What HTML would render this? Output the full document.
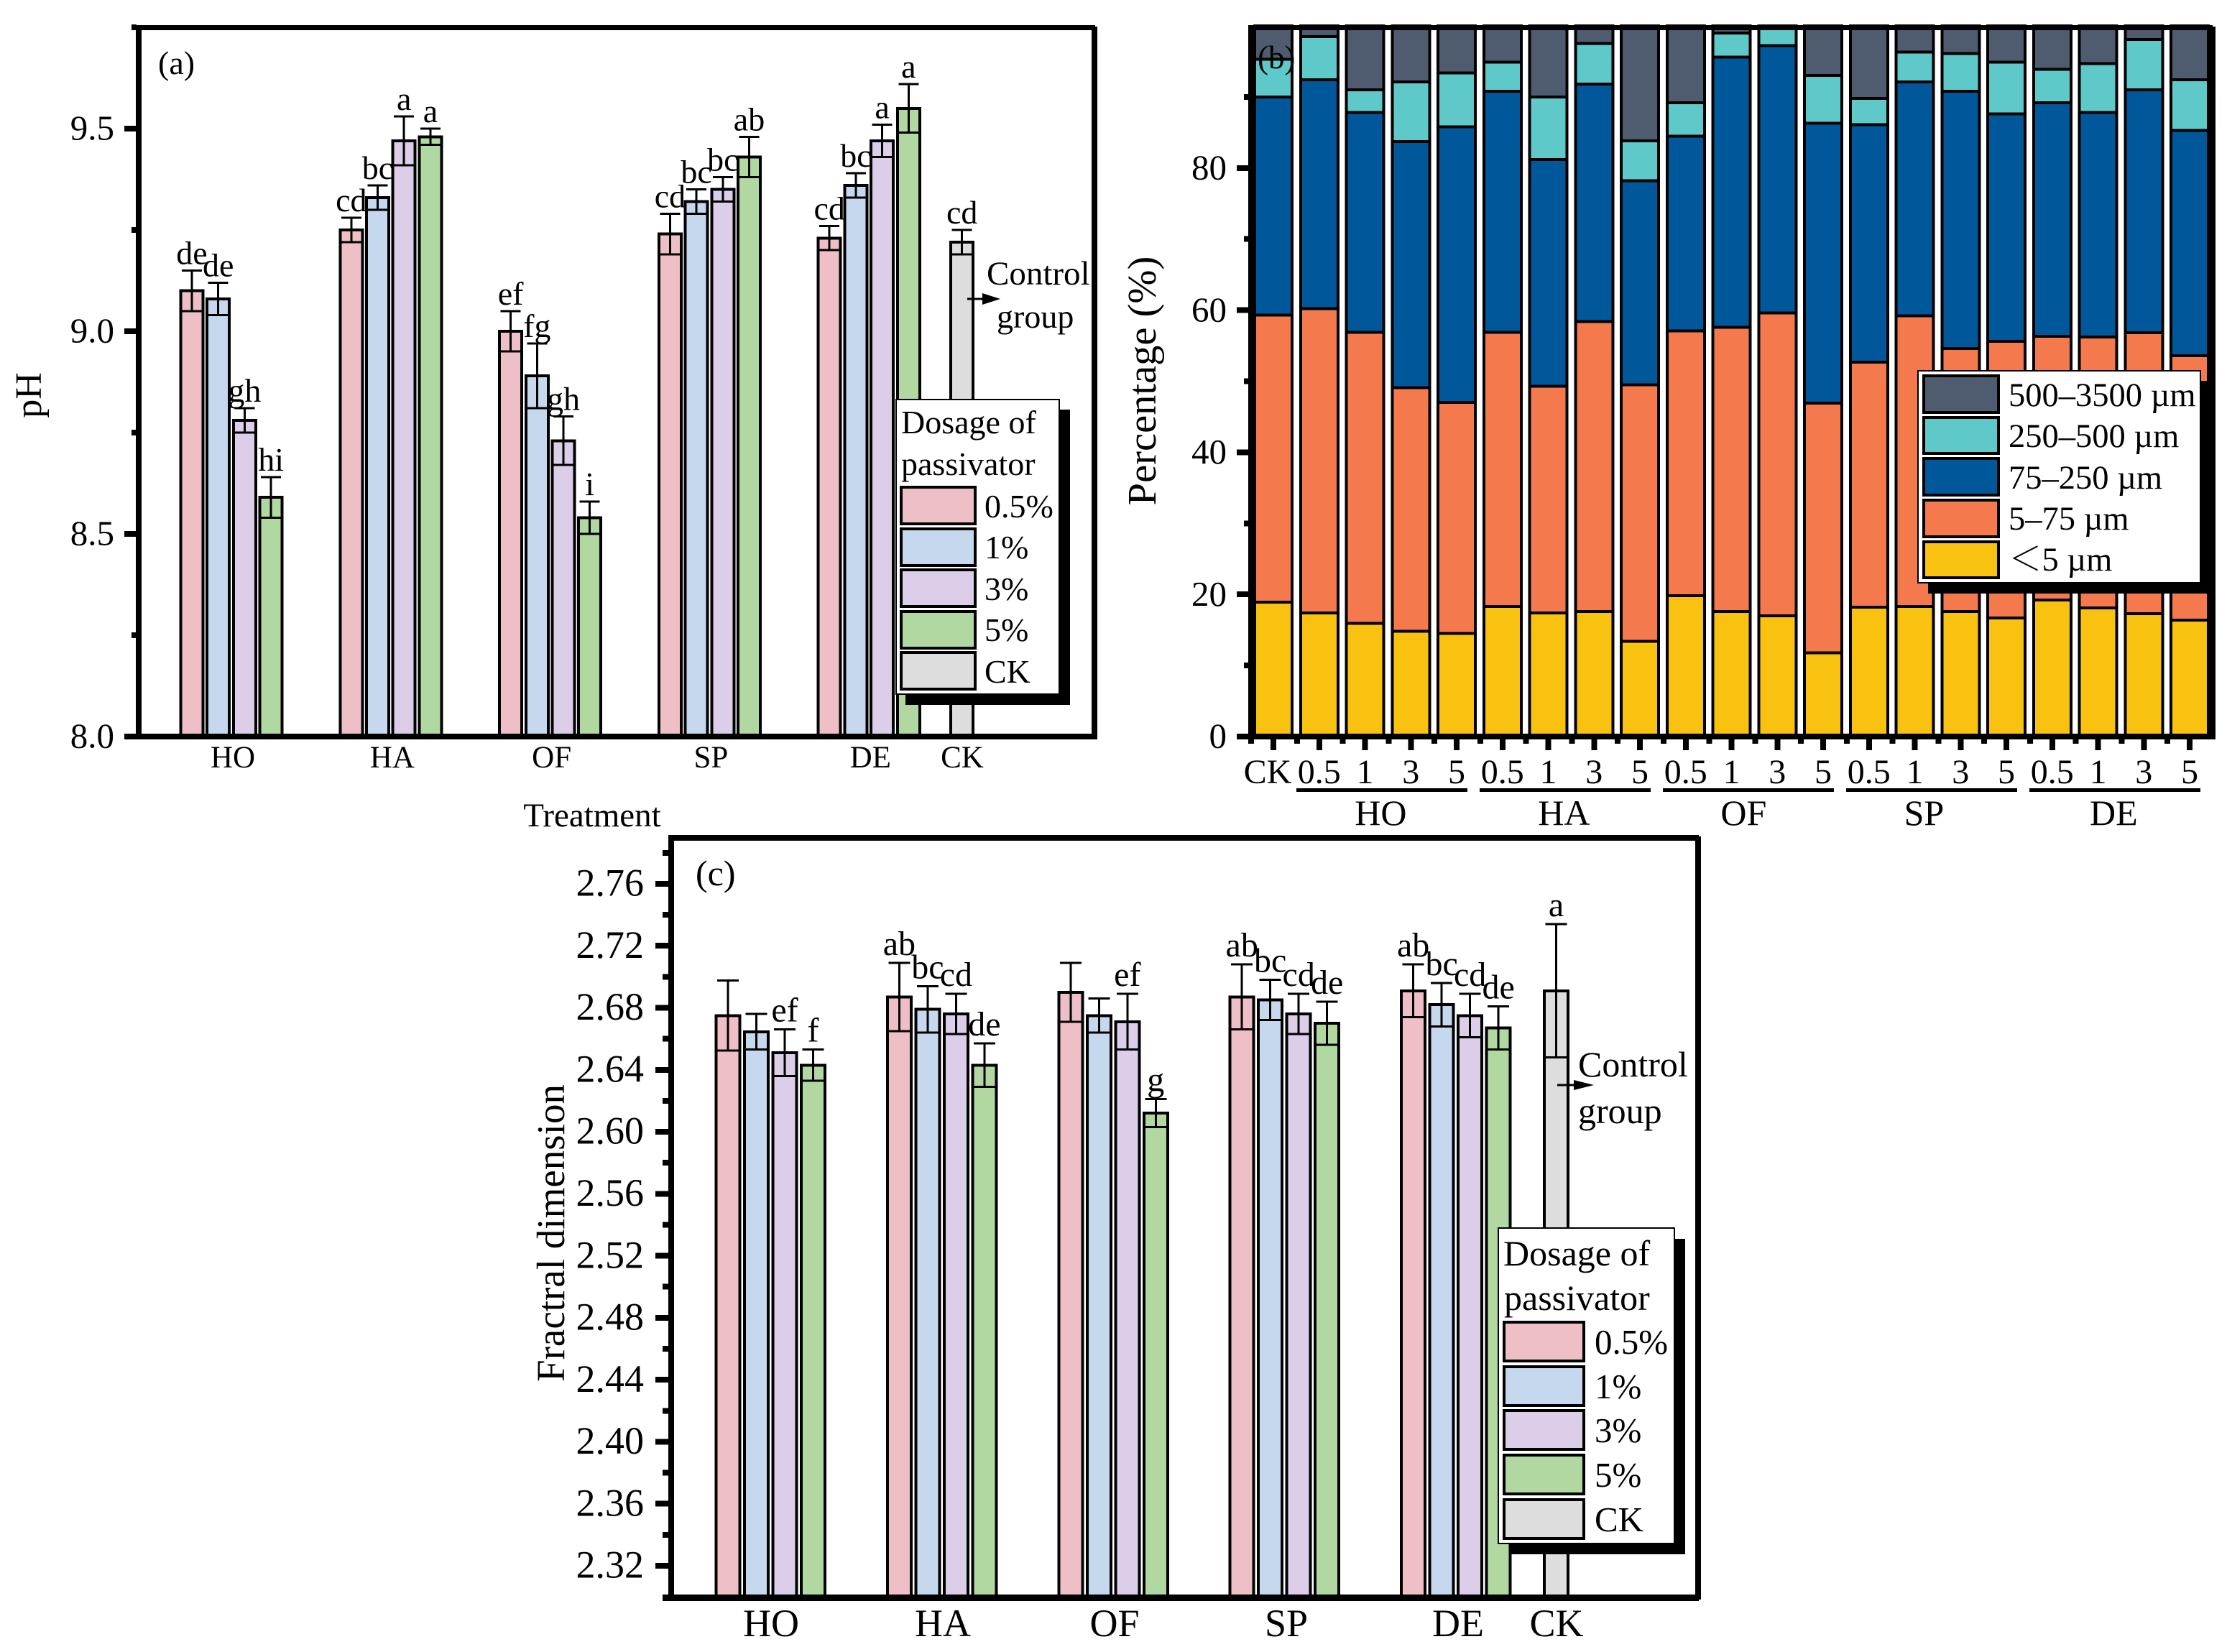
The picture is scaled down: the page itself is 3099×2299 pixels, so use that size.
<!DOCTYPE html>
<html lang="en">
<head>
<meta charset="utf-8">
<title>pH, particle size distribution and fractal dimension by passivator treatment</title>
<style>
html,body{margin:0;padding:0;background:#fff;}
svg{display:block;}
text{font-family:"Liberation Serif","Noto Serif CJK SC",serif;fill:#000;}
.crisp rect{shape-rendering:crispEdges;}
.crisp line{shape-rendering:crispEdges;}
</style>
</head>
<body>
<svg id="fig" xmlns="http://www.w3.org/2000/svg" width="3099" height="2299" viewBox="0 0 3099 2299">
<rect x="0" y="0" width="3099" height="2299" fill="#ffffff"/>

<!-- PANEL A -->
<g id="panel-a">
  <g id="a-bars" class="crisp"></g>
  <g id="a-frame" class="crisp" fill="#000">
    <rect x="189" y="35" width="8" height="994"/>
    <rect x="189" y="35" width="1335" height="7"/>
    <rect x="1519" y="37" width="8" height="992"/>
    <rect x="173" y="1021" width="1351" height="8"/>
  </g>
  <g id="a-ticks" class="crisp"></g>
  <text x="220" y="103" font-size="46">(a)</text>
  <text transform="translate(57,550) rotate(-90)" text-anchor="middle" font-size="52">pH</text>
  <text x="824" y="1150" text-anchor="middle" font-size="47">Treatment</text>
  <g>
    <text x="1373" y="396" font-size="47">Control</text>
    <text x="1387" y="456" font-size="46">group</text>
    <line x1="1346" y1="416" x2="1372" y2="416" stroke="#000" stroke-width="3"/>
    <polygon points="1367,408 1392,416 1367,424" fill="#000"/>
  </g>
  <g class="crisp">
    <rect x="1260" y="570" width="229" height="411" fill="#000"/>
    <rect x="1247" y="556" width="227" height="410" fill="#fff" stroke="#000" stroke-width="2"/>
    <text x="1254" y="603" font-size="46">Dosage of</text>
    <text x="1254" y="661" font-size="46">passivator</text>
    <g stroke="#000" stroke-width="4">
      <rect x="1254" y="678" width="103" height="51" fill="#EEBFC6"/>
      <rect x="1254" y="736" width="103" height="51" fill="#C6D8EE"/>
      <rect x="1254" y="793" width="103" height="51" fill="#DCCDE9"/>
      <rect x="1254" y="851" width="103" height="51" fill="#B2D8A2"/>
      <rect x="1254" y="908" width="103" height="51" fill="#DDDDDD"/>
    </g>
    <text x="1370" y="720" font-size="46">0.5%</text>
    <text x="1370" y="777" font-size="46">1%</text>
    <text x="1370" y="835" font-size="46">3%</text>
    <text x="1370" y="892" font-size="46">5%</text>
    <text x="1370" y="950" font-size="46">CK</text>
  </g>
</g>

<!-- PANEL B -->
<g id="panel-b">
  <g id="b-bars" class="crisp"></g>
  <g class="crisp" fill="#000">
    <rect x="1737" y="35" width="8" height="994"/>
    <rect x="1737" y="35" width="1342" height="7"/>
    <rect x="3075" y="37" width="8" height="992"/>
    <rect x="1721" y="1021" width="1358" height="8"/>
  </g>
  <g id="b-ticks" class="crisp"></g>
  <text x="1750" y="95" font-size="45">(b)</text>
  <text transform="translate(1608,530) rotate(-90)" text-anchor="middle" font-size="56.5">Percentage (%)</text>
  <g class="crisp">
    <rect x="2683" y="530" width="394" height="296" fill="#000"/>
    <rect x="2669" y="516" width="393" height="295" fill="#fff" stroke="#000" stroke-width="2"/>
    <g stroke="#000" stroke-width="4">
      <rect x="2677" y="523" width="104" height="51" fill="#4F5B6E"/>
      <rect x="2677" y="581" width="104" height="50" fill="#5FC8C9"/>
      <rect x="2677" y="638" width="104" height="51" fill="#005799"/>
      <rect x="2677" y="696" width="104" height="51" fill="#F4794C"/>
      <rect x="2677" y="754" width="104" height="50" fill="#F9C110"/>
    </g>
    <text x="2795" y="565" font-size="46.5">500–3500 µm</text>
    <text x="2795" y="622" font-size="46.5">250–500 µm</text>
    <text x="2795" y="680" font-size="46.5">75–250 µm</text>
    <text x="2795" y="737" font-size="46.5">5–75 µm</text>
    <text x="2795" y="794" font-size="46.5">＜5 µm</text>
  </g>
</g>

<!-- PANEL C -->
<g id="panel-c">
  <g id="c-bars" class="crisp"></g>
  <g class="crisp" fill="#000">
    <rect x="930" y="1162" width="8" height="1066"/>
    <rect x="930" y="1162" width="1434" height="8"/>
    <rect x="2359" y="1164" width="8" height="1062"/>
    <rect x="922" y="2219" width="1442" height="9"/>
  </g>
  <g id="c-ticks" class="crisp"></g>
  <text x="968" y="1232" font-size="50">(c)</text>
  <text transform="translate(785,1716) rotate(-90)" text-anchor="middle" font-size="55">Fractral dimension</text>
  <g>
    <text x="2196" y="1498" font-size="50">Control</text>
    <text x="2196" y="1563" font-size="50">group</text>
    <line x1="2167" y1="1510" x2="2192" y2="1510" stroke="#000" stroke-width="3"/>
    <polygon points="2190,1503 2218,1510 2190,1517" fill="#000"/>
  </g>
  <g class="crisp">
    <rect x="2100" y="1724" width="245" height="439" fill="#000"/>
    <rect x="2085" y="1709" width="245" height="439" fill="#fff" stroke="#000" stroke-width="2"/>
    <text x="2092" y="1761" font-size="50">Dosage of</text>
    <text x="2093" y="1823" font-size="50">passivator</text>
    <g stroke="#000" stroke-width="4">
      <rect x="2093" y="1840" width="111" height="54" fill="#EEBFC6"/>
      <rect x="2093" y="1902" width="111" height="54" fill="#C6D8EE"/>
      <rect x="2093" y="1963" width="111" height="54" fill="#DCCDE9"/>
      <rect x="2093" y="2025" width="111" height="54" fill="#B2D8A2"/>
      <rect x="2093" y="2087" width="111" height="54" fill="#DDDDDD"/>
    </g>
    <text x="2219" y="1884" font-size="49">0.5%</text>
    <text x="2219" y="1946" font-size="49">1%</text>
    <text x="2219" y="2007" font-size="49">3%</text>
    <text x="2219" y="2069" font-size="49">5%</text>
    <text x="2219" y="2131" font-size="49">CK</text>
  </g>
</g>
</svg>

<script>
// ---------- shared categories ----------
const groups = ['HO', 'HA', 'OF', 'SP', 'DE'];
const ckLabel = ['CK'];
const doseKeys = ['0-5', '1', '3', '5'];
const doseColors = ['#EEBFC6', '#C6D8EE', '#DCCDE9', '#B2D8A2'];
const ckColor = '#DDDDDD';

// ---------- panel (a): pH ----------
const phTickValues = [8.0, 8.5, 9.0, 9.5];
const phTickLabels = ['8.0', '8.5', '9.0', '9.5'];
const phMinorTicks = [8.25, 8.75, 9.25, 9.75];
const phDose05 = [9.10, 9.25, 9.00, 9.24, 9.23];
const phDose1 = [9.08, 9.33, 8.89, 9.32, 9.36];
const phDose3 = [8.78, 9.47, 8.73, 9.35, 9.47];
const phDose5 = [8.59, 9.48, 8.54, 9.43, 9.55];
const phErr05 = [0.05, 0.03, 0.05, 0.05, 0.03];
const phErr1 = [0.04, 0.03, 0.08, 0.03, 0.03];
const phErr3 = [0.03, 0.06, 0.06, 0.03, 0.04];
const phErr5 = [0.05, 0.02, 0.04, 0.05, 0.06];
const phLetters05 = ['de', 'cd', 'ef', 'cd', 'cd'];
const phLetters1 = ['de', 'bc', 'fg', 'bc', 'bc'];
const phLetters3 = ['gh', 'a', 'gh', 'bc', 'a'];
const phLetters5 = ['hi', 'a', 'i', 'ab', 'a'];
const phCk = [9.22];
const phCkErr = [0.03];
const phCkLetter = ['cd'];

// ---------- panel (b): particle size stacks (percent) ----------
const sizeTickValues = [0, 20, 40, 60, 80];
const sizeMinorTicks = [10, 30, 50, 70, 90];
const sizeCategories = ['CK', '0.5', '1', '3', '5', '0.5', '1', '3', '5', '0.5', '1', '3', '5', '0.5', '1', '3', '5', '0.5', '1', '3', '5'];
const sizeUnder5 = [18.9, 17.4, 15.9, 14.8, 14.5, 18.3, 17.4, 17.6, 13.4, 19.8, 17.6, 17.0, 11.8, 18.2, 18.3, 17.6, 16.7, 19.2, 18.1, 17.3, 16.4];
const size5to75 = [40.4, 42.8, 41.0, 34.3, 32.5, 38.6, 31.9, 40.8, 36.1, 37.3, 40.0, 42.6, 35.1, 34.5, 40.9, 37.0, 38.9, 37.1, 38.1, 39.5, 37.2];
const size75to250 = [30.7, 32.2, 30.9, 34.6, 38.8, 33.9, 31.9, 33.4, 28.7, 27.4, 38.0, 37.6, 39.4, 33.4, 32.9, 36.2, 32.0, 32.9, 31.6, 34.2, 31.7];
const size250to500 = [5.3, 6.1, 3.2, 8.4, 7.6, 4.1, 8.8, 5.7, 5.6, 4.7, 3.4, 2.8, 6.7, 3.7, 4.2, 5.3, 7.3, 4.7, 6.9, 7.1, 7.1];
const size500to3500 = [4.7, 1.5, 9.0, 7.9, 6.6, 5.1, 10.0, 2.5, 16.2, 10.8, 1.0, 0.0, 7.0, 10.2, 3.7, 3.9, 5.1, 6.1, 5.3, 1.9, 7.6];
const sizeClassKeys = ['under-5', '5-75', '75-250', '250-500', '500-3500'];
const sizeClassColors = ['#F9C110', '#F4794C', '#005799', '#5FC8C9', '#4F5B6E'];

// ---------- panel (c): fractal dimension ----------
const fdTickValues = [2.32, 2.36, 2.40, 2.44, 2.48, 2.52, 2.56, 2.60, 2.64, 2.68, 2.72, 2.76];
const fdTickLabels = ['2.32', '2.36', '2.40', '2.44', '2.48', '2.52', '2.56', '2.60', '2.64', '2.68', '2.72', '2.76'];
const fdMinorTicks = [2.34, 2.38, 2.42, 2.46, 2.50, 2.54, 2.58, 2.62, 2.66, 2.70, 2.74, 2.78];
const fdDose05 = [2.675, 2.687, 2.690, 2.687, 2.691];
const fdDose1 = [2.6645, 2.679, 2.675, 2.685, 2.682];
const fdDose3 = [2.651, 2.676, 2.671, 2.676, 2.675];
const fdDose5 = [2.643, 2.643, 2.612, 2.670, 2.667];
const fdErr05 = [0.0225, 0.022, 0.019, 0.021, 0.017];
const fdErr1 = [0.0115, 0.015, 0.011, 0.013, 0.014];
const fdErr3 = [0.015, 0.013, 0.018, 0.013, 0.014];
const fdErr5 = [0.010, 0.014, 0.009, 0.014, 0.014];
const fdLetters05 = ['', 'ab', '', 'ab', 'ab'];
const fdLetters1 = ['', 'bc', '', 'bc', 'bc'];
const fdLetters3 = ['ef', 'cd', 'ef', 'cd', 'cd'];
const fdLetters5 = ['f', 'de', 'g', 'de', 'de'];
const fdCk = [2.691];
const fdCkErr = [0.043];
const fdCkLetter = ['a'];

// ---------- series bundles ----------
const phSeries = [phDose05, phDose1, phDose3, phDose5];
const phErrors = [phErr05, phErr1, phErr3, phErr5];
const phLetters = [phLetters05, phLetters1, phLetters3, phLetters5];
const fdSeries = [fdDose05, fdDose1, fdDose3, fdDose5];
const fdErrors = [fdErr05, fdErr1, fdErr3, fdErr5];
const fdLetters = [fdLetters05, fdLetters1, fdLetters3, fdLetters5];
const sizeSeries = [sizeUnder5, size5to75, size75to250, size250to500, size500to3500];

// ---------- axis functions ----------
function yA(v) { return 1025 - (v - 8) * 564; }
function xA(g, s) { return 267 + g * 221.8 + s * 36.7; }
function yB(v) { return 1025 - v * 9.89; }
function xB(i) { return 1772 + i * 63.75; }
function yC(v) { return 2179 - (v - 2.32) * 2157; }
function xC(g, s) { return 1013 + g * 238.4 + s * 39.5; }

// ---------- drawing helpers ----------
const NS = 'http://www.w3.org/2000/svg';
function mk(parent, tag, props) {
  const n = document.createElementNS(NS, tag);
  for (const k in props) { n.setAttribute(k, props[k]); }
  parent.appendChild(n);
  return n;
}
function txt(parent, x, y, size, anchor, content) {
  const n = mk(parent, 'text', { x: x, y: y, 'font-size': size, 'text-anchor': anchor });
  n.textContent = content;
  return n;
}
function drawBar(parent, prefix, cx, halfW, yTop, yBase, yErrTop, yErrBot, fill, capHalf, letter, letterOffset, letterSize) {
  let el = mk(parent, 'rect', { x: cx - halfW, y: yTop, width: halfW * 2, height: yBase - yTop, fill: fill, stroke: '#000', 'stroke-width': 4 });
  
  
  el = mk(parent, 'line', { x1: cx, x2: cx, y1: yErrTop, y2: yErrBot, stroke: '#000', 'stroke-width': 3 });
  
  
  el = mk(parent, 'line', { x1: cx - capHalf, x2: cx + capHalf, y1: yErrTop, y2: yErrTop, stroke: '#000', 'stroke-width': 3 });
  
  
  el = mk(parent, 'line', { x1: cx - capHalf, x2: cx + capHalf, y1: yErrBot, y2: yErrBot, stroke: '#000', 'stroke-width': 3 });
  
  
  if (letter) {
    el = txt(parent, cx, yErrTop - letterOffset, letterSize, 'middle', letter);
    
    
  }
}
function yTick(parent, prefix, x1, x2, y) {
  const el = mk(parent, 'rect', { x: x1, y: y - 4, width: x2 - x1, height: 8, fill: '#000' });
  
  
}

// ---------- panel (a) ----------
const aBars = document.getElementById('a-bars');
const aTicks = document.getElementById('a-ticks');
groups.forEach(function (g, gi) {
  phSeries.forEach(function (ser, si) {
    const v = ser[gi], e = phErrors[si][gi];
    drawBar(aBars, 'ph-' + g.toLowerCase() + '-' + doseKeys[si], xA(gi, si), 15.5, yA(v), yA(8), yA(v + e), yA(v - e), doseColors[si], 14, phLetters[si][gi], 9, 46);
  });
  const lbl = txt(aTicks, xA(gi, 1.5) + 2, 1068, 43, 'middle', g);
  
  
});
drawBar(aBars, 'ph-ck', 1338.7, 15.5, yA(phCk[0]), yA(8), yA(phCk[0] + phCkErr[0]), yA(phCk[0] - phCkErr[0]), ckColor, 14, phCkLetter[0], 9, 46);
{
  const lbl = txt(aTicks, 1339, 1068, 43, 'middle', ckLabel[0]);
  
  
}
phTickValues.forEach(function (v, i) {
  yTick(aTicks, 'ph-y-tick-' + phTickLabels[i], 173, 190, yA(v));
  const lbl = txt(aTicks, 159, yA(v) + 15.7, 49, 'end', phTickLabels[i]);
  
  
});
phMinorTicks.forEach(function (v) {
  yTick(aTicks, 'ph-y-minor-tick-' + v, 183, 190, yA(v));
});

// ---------- panel (b) ----------
const bBars = document.getElementById('b-bars');
const bTicks = document.getElementById('b-ticks');
sizeCategories.forEach(function (cat, i) {
  let cum = 0;
  sizeSeries.forEach(function (ser, k) {
    const top = cum + ser[i];
    const seg = mk(bBars, 'rect', { x: xB(i) - 26, y: yB(top), width: 52, height: yB(cum) - yB(top), fill: sizeClassColors[k], stroke: '#000', 'stroke-width': 4 });
    
    
    cum = top;
  });
  const tick = mk(bTicks, 'rect', { x: xB(i) - 4, y: 1029, width: 8, height: 15, fill: '#000' });
  
  
  const minor = mk(bTicks, 'rect', { x: xB(i) - 35, y: 1029, width: 8, height: 6, fill: '#000' });
  
  
  const lbl = txt(bTicks, i === 0 ? 1764 : xB(i), 1090, 48, 'middle', cat);
  
  
});
groups.forEach(function (g, gi) {
  const first = 1 + gi * 4, last = first + 3;
  const rule = mk(bTicks, 'rect', { x: xB(first) - 32, y: 1097, width: xB(last) + 15 - (xB(first) - 32), height: 5, fill: '#000' });
  
  
  const nudge = g === 'OF' ? -15 : g === 'SP' ? -19 : -10;
  const lbl = txt(bTicks, (xB(first) + xB(last)) / 2 + nudge, 1148, 50, 'middle', g);
  
  
});
sizeTickValues.forEach(function (v) {
  yTick(bTicks, 'size-y-tick-' + v, 1721, 1738, yB(v));
  const lbl = txt(bTicks, 1707, yB(v) + 15.7, 49, 'end', String(v));
  
  
});
sizeMinorTicks.forEach(function (v) {
  yTick(bTicks, 'size-y-minor-tick-' + v, 1731, 1738, yB(v));
});

// ---------- panel (c) ----------
const cBars = document.getElementById('c-bars');
const cTicks = document.getElementById('c-ticks');
groups.forEach(function (g, gi) {
  fdSeries.forEach(function (ser, si) {
    const v = ser[gi], e = fdErrors[si][gi];
    drawBar(cBars, 'fractal-' + g.toLowerCase() + '-' + doseKeys[si], xC(gi, si), 16.5, yC(v), 2224, yC(v + e), yC(v - e), doseColors[si], 15, fdLetters[si][gi], 11, 48);
  });
  const lbl = txt(cTicks, 1073 + gi * 239, 2277, 54, 'middle', g);
  
  
});
drawBar(cBars, 'fractal-ck', 2165.5, 16.5, yC(fdCk[0]), 2224, yC(fdCk[0] + fdCkErr[0]), yC(fdCk[0] - fdCkErr[0]), ckColor, 15, fdCkLetter[0], 11, 48);
{
  const lbl = txt(cTicks, 2166, 2277, 54, 'middle', ckLabel[0]);
  
  
}
fdTickValues.forEach(function (v, i) {
  yTick(cTicks, 'fractal-y-tick-' + fdTickLabels[i], 912, 931, yC(v));
  const lbl = txt(cTicks, 896, yC(v) + 16.7, 54, 'end', fdTickLabels[i]);
  
  
});
fdMinorTicks.forEach(function (v) {
  yTick(cTicks, 'fractal-y-minor-tick-' + v, 922, 931, yC(v));
});
</script>
</body>
</html>
